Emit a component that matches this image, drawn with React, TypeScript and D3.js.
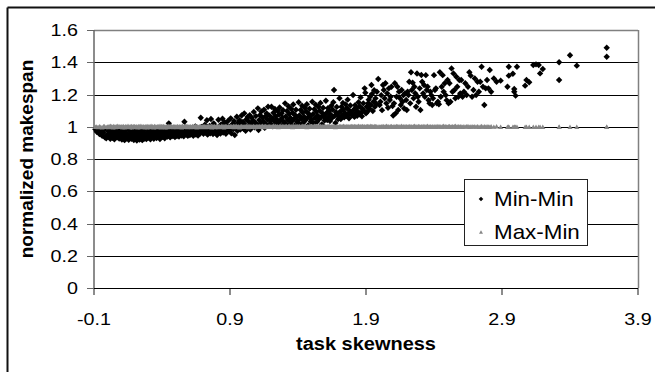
import React from "react";
import * as d3 from "d3";

// task skewness of each experiment (x)
const skewness: number[] = [
  -0.09, -0.08, -0.07, -0.06, -0.05, -0.04, -0.03, -0.025, -0.02, -0.01,
  0, 0.005, 0.01, 0.015, 0.02, 0.025, 0.03, 0.035, 0.04, 0.045, 0.05, 0.055, 0.06, 0.065, 0.07, 0.075, 0.08, 0.085, 0.09, 0.095,
  0.1, 0.105, 0.11, 0.115, 0.12, 0.125, 0.13, 0.135, 0.14, 0.145, 0.15, 0.155, 0.16, 0.165, 0.17, 0.175, 0.18, 0.185, 0.19, 0.193, 0.196, 0.199,
  0.2, 0.205, 0.21, 0.215, 0.22, 0.225, 0.23, 0.235, 0.24, 0.245, 0.25, 0.255, 0.26, 0.265, 0.27, 0.275, 0.28, 0.285, 0.29, 0.293, 0.296, 0.299,
  0.3, 0.305, 0.31, 0.315, 0.32, 0.325, 0.33, 0.335, 0.34, 0.345, 0.35, 0.355, 0.36, 0.365, 0.37, 0.375, 0.38, 0.385, 0.39, 0.393, 0.396, 0.399,
  0.4, 0.405, 0.41, 0.415, 0.42, 0.425, 0.43, 0.435, 0.44, 0.445, 0.45, 0.455, 0.46, 0.465, 0.47, 0.475, 0.48, 0.485, 0.49, 0.495,
  0.5, 0.505, 0.51, 0.515, 0.52, 0.525, 0.53, 0.535, 0.54, 0.545, 0.55, 0.555, 0.56, 0.565, 0.57, 0.575, 0.58, 0.585, 0.59, 0.595,
  0.6, 0.605, 0.61, 0.615, 0.62, 0.625, 0.63, 0.635, 0.64, 0.645, 0.65, 0.655, 0.66, 0.665, 0.67, 0.675, 0.68, 0.685, 0.69, 0.695,
  0.7, 0.705, 0.71, 0.715, 0.72, 0.725, 0.73, 0.735, 0.74, 0.745, 0.75, 0.755, 0.76, 0.765, 0.77, 0.775, 0.78, 0.785, 0.79, 0.795,
  0.8, 0.805, 0.81, 0.815, 0.82, 0.825, 0.83, 0.835, 0.84, 0.845, 0.85, 0.855, 0.86, 0.865, 0.87, 0.875, 0.88, 0.885, 0.89, 0.895,
  0.9, 0.905, 0.91, 0.915, 0.92, 0.925, 0.93, 0.935, 0.94, 0.945, 0.95, 0.955, 0.96, 0.965, 0.97, 0.975, 0.98, 0.985, 0.99, 0.995,
  1.0, 1.005, 1.01, 1.015, 1.02, 1.025, 1.03, 1.035, 1.04, 1.045, 1.05, 1.055, 1.06, 1.065, 1.07, 1.075, 1.08, 1.085, 1.09, 1.095,
  1.1, 1.105, 1.11, 1.115, 1.12, 1.125, 1.13, 1.135, 1.14, 1.145, 1.15, 1.155, 1.16, 1.165, 1.17, 1.175, 1.18, 1.185, 1.19, 1.195,
  1.2, 1.205, 1.21, 1.215, 1.22, 1.225, 1.23, 1.235, 1.24, 1.245, 1.25, 1.255, 1.26, 1.265, 1.27, 1.275, 1.28, 1.285, 1.29, 1.295,
  1.3, 1.305, 1.31, 1.315, 1.32, 1.325, 1.33, 1.335, 1.34, 1.345, 1.35, 1.355, 1.36, 1.365, 1.37, 1.375, 1.38, 1.385, 1.39, 1.395,
  1.4, 1.405, 1.41, 1.415, 1.42, 1.425, 1.43, 1.435, 1.44, 1.445, 1.45, 1.455, 1.46, 1.465, 1.47, 1.475, 1.48, 1.485, 1.49, 1.495,
  1.5, 1.505, 1.51, 1.515, 1.52, 1.525, 1.53, 1.535, 1.54, 1.545, 1.55, 1.555, 1.56, 1.565, 1.57, 1.575, 1.58, 1.585, 1.59, 1.595,
  1.6, 1.605, 1.61, 1.615, 1.62, 1.625, 1.63, 1.635, 1.64, 1.645, 1.65, 1.655, 1.66, 1.665, 1.67, 1.675, 1.68, 1.685, 1.69, 1.695,
  1.7, 1.705, 1.71, 1.715, 1.72, 1.725, 1.73, 1.735, 1.74, 1.745, 1.75, 1.755, 1.76, 1.765, 1.77, 1.775, 1.78, 1.785, 1.79, 1.795,
  1.8, 1.805, 1.81, 1.815, 1.82, 1.825, 1.83, 1.835, 1.84, 1.845, 1.85, 1.855, 1.86, 1.865, 1.87, 1.875, 1.88, 1.885, 1.89, 1.895,
  1.9, 1.905, 1.91, 1.915, 1.92, 1.925, 1.93, 1.935, 1.94, 1.945, 1.95, 1.955, 1.96, 1.965, 1.97, 1.975, 1.98, 1.99,
  2.0, 2.006, 2.012, 2.018, 2.025, 2.031, 2.037, 2.043, 2.05, 2.056, 2.062, 2.068, 2.075, 2.081, 2.087, 2.095,
  2.1, 2.106, 2.112, 2.118, 2.125, 2.131, 2.137, 2.143, 2.15, 2.156, 2.162, 2.168, 2.175, 2.181, 2.187, 2.195,
  2.2, 2.206, 2.212, 2.218, 2.225, 2.231, 2.237, 2.243, 2.25, 2.256, 2.262, 2.268, 2.275, 2.281, 2.287, 2.295,
  2.3, 2.307, 2.313, 2.32, 2.327, 2.333, 2.34, 2.347, 2.353, 2.36, 2.367, 2.373, 2.38, 2.387, 2.393,
  2.4, 2.407, 2.414, 2.421, 2.429, 2.436, 2.443, 2.45, 2.457, 2.464, 2.471, 2.479, 2.486, 2.493,
  2.5, 2.507, 2.514, 2.521, 2.529, 2.536, 2.543, 2.55, 2.557, 2.564, 2.571, 2.579, 2.586, 2.593,
  2.6, 2.61, 2.62, 2.63, 2.64, 2.65, 2.66, 2.67, 2.68, 2.69,
  2.7, 2.71, 2.72, 2.73, 2.74, 2.75, 2.76, 2.77, 2.78, 2.79,
  2.8, 2.81, 2.82, 2.84, 2.86, 2.89,
  2.94, 2.95, 2.95, 2.98, 2.99, 2.99, 3.0, 3.01, 3.07, 3.08, 3.1, 3.13, 3.15, 3.17, 3.18, 3.2, 3.32, 3.32, 3.4, 3.45, 3.67, 3.67,
];

// normalized makespan, Min-Min
const minMin: number[] = [
  0.984, 0.969, 0.978, 0.955, 0.972, 0.944, 0.962, 0.981, 0.935, 0.928,
  0.951, 0.972, 0.938, 0.962, 0.925, 0.983, 0.947, 0.931, 0.968, 0.956, 0.922, 0.977, 0.941, 0.961, 0.934, 0.986, 0.951, 0.927, 0.969, 0.944,
  0.958, 0.921, 0.973, 0.936, 0.949, 0.917, 0.965, 0.982, 0.929, 0.954, 0.941, 0.919, 0.976, 0.938, 0.962, 0.926, 0.948, 0.971, 0.933, 0.918, 0.957, 0.985,
  0.942, 0.926, 0.964, 0.915, 0.951, 0.978, 0.933, 0.92, 0.959, 0.944, 0.972, 0.917, 0.939, 0.961, 0.927, 0.985, 0.948, 0.923, 0.956, 0.934, 0.969, 0.946,
  0.951, 0.931, 0.968, 0.922, 0.944, 0.979, 0.937, 0.958, 0.926, 0.963, 0.942, 0.986, 0.93, 0.953, 0.972, 0.936, 0.947, 0.924, 0.96, 0.977, 0.94, 0.955,
  0.962, 0.938, 0.975, 0.947, 0.929, 0.968, 0.952, 0.985, 0.94, 0.958, 1.021, 0.971, 0.934, 0.963, 0.948, 0.979, 0.943, 0.957, 0.991, 0.936,
  0.955, 0.972, 0.943, 0.988, 0.961, 0.939, 0.978, 0.951, 0.966, 0.946, 0.983, 0.958, 0.941, 1.031, 0.974, 0.995, 0.952, 0.967, 0.944, 0.98,
  0.962, 0.948, 0.985, 0.971, 0.955, 0.992, 0.944, 0.977, 0.96, 1.002, 0.951, 0.983, 0.967, 0.946, 0.974, 0.989, 0.958, 1.056, 0.998, 0.965,
  0.972, 0.957, 0.994, 1.012, 0.965, 0.981, 1.04, 0.951, 0.987, 0.969, 1.005, 0.96, 1.048, 0.978, 0.992, 0.955, 1.021, 0.984, 0.966, 1.001,
  0.968, 0.949, 0.985, 1.043, 0.977, 0.996, 0.958, 1.015, 0.982, 1.05, 0.964, 0.99, 1.028, 0.972, 0.956, 1.008, 0.987, 1.036, 0.975, 0.998,
  0.978, 1.052, 0.96, 0.994, 1.018, 0.985, 1.035, 0.949, 1.006, 0.99, 1.062, 0.975, 1.024, 0.998, 1.041, 0.982, 1.011, 1.07, 0.993, 1.029,
  0.988, 1.083, 1.012, 0.975, 1.045, 1.002, 1.061, 0.994, 1.03, 1.071, 0.983, 1.019, 1.055, 1.007, 1.038, 1.092, 0.997, 1.026, 1.066, 1.014,
  1.005, 1.114, 0.98, 1.042, 1.072, 1.021, 1.095, 1.008, 1.057, 1.034, 1.105, 0.993, 1.064, 1.017, 1.082, 1.046, 1.124, 1.011, 1.069, 1.038,
  1.018, 1.124, 1.052, 1.003, 1.087, 1.035, 1.11, 1.066, 1.012, 1.045, 1.098, 1.027, 1.075, 1.119, 1.041, 1.006, 1.084, 1.058, 1.102, 1.031,
  1.025, 1.145, 1.064, 1.011, 1.098, 1.042, 1.127, 1.079, 1.019, 1.055, 1.111, 1.034, 1.087, 1.138, 1.048, 1.008, 1.072, 1.105, 1.061, 1.029,
  1.037, 1.152, 1.07, 1.015, 1.104, 1.049, 1.131, 1.088, 1.026, 1.062, 1.118, 1.041, 1.094, 1.14, 1.056, 1.01, 1.079, 1.112, 1.067, 1.033,
  1.045, 1.155, 1.078, 1.022, 1.109, 1.054, 1.137, 1.093, 1.031, 1.069, 1.124, 1.048, 1.1, 1.148, 1.06, 1.015, 1.084, 1.118, 1.072, 1.039,
  1.052, 1.161, 1.085, 1.042, 1.115, 1.062, 1.099, 1.036, 1.076, 1.13, 1.055, 1.106, 1.152, 1.228, 1.068, 1.024, 1.09, 1.123, 1.079, 1.047,
  1.062, 1.176, 1.094, 1.048, 1.124, 1.071, 1.148, 1.107, 1.058, 1.085, 1.139, 1.066, 1.115, 1.168, 1.078, 1.052, 1.098, 1.132, 1.088, 1.073,
  1.072, 1.197, 1.105, 1.061, 1.134, 1.082, 1.117, 1.068, 1.095, 1.152, 1.077, 1.126, 1.182, 1.089, 1.065, 1.11, 1.145, 1.1, 1.238, 1.211,
  1.083, 1.124, 1.093, 1.145, 1.168, 1.112, 1.186, 1.135, 1.259, 1.204, 1.098, 1.155, 1.227, 1.124, 1.176, 1.143, 1.217, 1.296,
  1.135, 1.155, 1.196, 1.103, 1.259, 1.228, 1.176, 1.27, 1.145, 1.207, 1.118, 1.238, 1.166, 1.186, 1.248, 1.128,
  1.07, 1.145, 1.27, 1.083, 1.186, 1.248, 1.104, 1.217, 1.176, 1.135, 1.228, 1.155, 1.196, 1.113, 1.207, 1.166,
  1.104, 1.217, 1.197, 1.279, 1.145, 1.338, 1.228, 1.273, 1.176, 1.248, 1.207, 1.124, 1.33, 1.186, 1.155, 1.238,
  1.104, 1.321, 1.279, 1.207, 1.259, 1.186, 1.32, 1.228, 1.248, 1.165, 1.145, 1.217, 1.196, 1.135, 1.176,
  1.32, 1.228, 1.238, 1.145, 1.155, 1.14, 1.338, 1.186, 1.248, 1.32, 1.217, 1.27, 1.196, 1.165,
  1.29, 1.145, 1.27, 1.155, 1.362, 1.217, 1.331, 1.228, 1.176, 1.31, 1.248, 1.186, 1.29, 1.207,
  1.29, 1.186, 1.217, 1.27, 1.197, 1.248, 1.338, 1.317, 1.186, 1.228,
  1.3, 1.197, 1.279, 1.217, 1.279, 1.372, 1.248, 1.135, 1.238, 1.29,
  1.238, 1.352, 1.217, 1.3, 1.279, 1.286,
  1.248, 1.372, 1.317, 1.329, 1.234, 1.217, 1.193, 1.372, 1.255, 1.29, 1.276, 1.383, 1.387, 1.383, 1.331, 1.358, 1.4, 1.29, 1.443, 1.379, 1.49, 1.434,
];

// normalized makespan, Max-Min
const maxMin: number[] = [
  1, 1.002, 0.998, 1.004, 1, 0.997, 1.003, 1.005, 1, 0.999,
  1.002, 0.998, 1.004, 1, 1.006, 0.999, 1.003, 1.001, 0.997, 1.005, 1, 1.002, 0.998, 1.004, 1.001, 1.006, 0.999, 1.003, 1, 1.002,
  1, 1.003, 0.998, 1.005, 1.001, 0.997, 1.004, 1, 1.002, 0.999, 1.006, 1.001, 0.998, 1.003, 1, 1.005, 0.997, 1.002, 1.004, 0.999, 1.001, 1.003,
  1.002, 0.999, 1.004, 1, 0.997, 1.005, 1.001, 1.003, 0.998, 1.006, 1, 1.002, 0.999, 1.004, 1.001, 0.997, 1.003, 1, 1.005, 0.998, 1.002, 1,
  1, 1.004, 0.998, 1.002, 1.006, 0.999, 1.003, 1, 0.997, 1.005, 1.001, 1.002, 0.998, 1.004, 1, 1.003, 0.999, 1.006, 1.001, 0.997, 1.002, 1.004,
  1.003, 0.999, 1.005, 1, 1.002, 0.997, 1.004, 1.001, 0.998, 1.006, 1, 1.003, 0.999, 1.002, 1.005, 1, 0.998, 1.004, 1.001, 1.003,
  1, 1.002, 0.998, 1.005, 1.001, 0.999, 1.004, 1, 1.003, 0.997, 1.006, 1.001, 0.999, 1.002, 1.004, 1, 1.003, 0.998, 1.005, 1.001,
  1.002, 1, 1.004, 0.998, 1.001, 1.005, 0.999, 1.003, 1, 1.006, 1.002, 0.997, 1.004, 1.001, 0.999, 1.003, 1, 1.005, 0.998, 1.002,
  1, 1.003, 0.999, 1.005, 1.001, 0.998, 1.004, 1, 1.002, 1.006, 0.999, 1.003, 1.001, 0.997, 1.004, 1, 1.002, 1.005, 0.998, 1.001,
  1.003, 1, 1.005, 0.998, 1.002, 1.004, 0.999, 1.001, 1.006, 1, 1.003, 0.997, 1.002, 1.005, 1, 1.004, 0.999, 1.001, 1.003, 1,
  1, 1.002, 1.004, 0.999, 1.001, 1.005, 0.998, 1.003, 1, 1.006, 1.002, 0.999, 1.004, 1.001, 0.997, 1.003, 1, 1.005, 1.002, 0.999,
  1.002, 0.999, 1.004, 1, 1.003, 1.006, 1.001, 0.998, 1.005, 1, 1.002, 1.004, 0.999, 1.001, 1.003, 1.005, 1, 0.998, 1.002, 1.004,
  1, 1.003, 1.001, 1.005, 0.999, 1.002, 1.004, 1, 1.006, 1.001, 0.998, 1.003, 1.005, 1, 1.002, 0.999, 1.004, 1.001, 1.003, 1,
  1.002, 1, 1.004, 1.001, 1.006, 0.999, 1.003, 1.005, 1, 1.002, 1.004, 0.998, 1.001, 1.003, 1.005, 1, 1.002, 1.004, 0.999, 1.003,
  1, 1.004, 1.002, 1.005, 1.001, 0.999, 1.003, 1.006, 1, 1.002, 1.004, 1.001, 0.998, 1.003, 1.005, 1, 1.002, 1.004, 1.001, 1.003,
  1.003, 1, 1.005, 1.002, 0.999, 1.004, 1.001, 1.006, 1.003, 1, 1.002, 1.005, 1.001, 0.998, 1.004, 1.002, 1, 1.003, 1.005, 1.001,
  1, 1.002, 1.004, 1.001, 1.006, 1.003, 0.999, 1.005, 1.002, 1, 1.004, 1.001, 1.003, 1.006, 1, 1.002, 1.004, 0.999, 1.003, 1.001,
  1.002, 1.004, 1, 1.005, 1.001, 1.003, 1.006, 0.999, 1.002, 1.004, 1.001, 1.003, 1, 1.005, 1.002, 0.998, 1.004, 1.001, 1.003, 1,
  1.001, 1.003, 1.005, 1, 1.002, 1.004, 0.999, 1.006, 1.001, 1.003, 1, 1.002, 1.005, 1.001, 1.004, 0.999, 1.002, 1.003, 1, 1.005,
  1.003, 1, 1.002, 1.005, 1.001, 1.004, 1.002, 0.999, 1.003, 1.006, 1, 1.002, 1.004, 1.001, 1.003, 1.005, 1, 1.002, 1.004, 1.001,
  1, 1.003, 1.005, 1.001, 1.004, 1.002, 1, 1.006, 1.003, 1.001, 1.004, 1, 1.002, 1.005, 1.003, 1.001, 1.004, 1.002,
  1.002, 1, 1.004, 1.001, 1.005, 1.003, 1, 1.002, 1.006, 1.001, 1.004, 1.002, 1, 1.003, 1.005, 1.001,
  1.001, 1.004, 1, 1.002, 1.005, 1.003, 1.001, 1.004, 1, 1.002, 1.006, 1.001, 1.003, 1, 1.004, 1.002,
  1.003, 1, 1.002, 1.005, 1.001, 1.004, 1.002, 1, 1.003, 1.006, 1.001, 1.004, 1, 1.002, 1.005, 1.003,
  1, 1.003, 1.001, 1.005, 1.002, 1.004, 1, 1.003, 1.006, 1.001, 1.002, 1.004, 1, 1.003, 1.001,
  1.002, 1.004, 1, 1.003, 1.005, 1.001, 1.004, 1.002, 1, 1.003, 1.006, 1.001, 1.004, 1.002,
  1.001, 1.003, 1.005, 1, 1.002, 1.004, 1.001, 1.003, 1.006, 1, 1.002, 1.004, 1.001, 1.003,
  1.002, 1, 1.004, 1.001, 1.003, 1.005, 1, 1.002, 1.004, 1.001,
  1.003, 1.001, 1.004, 1, 1.002, 1.005, 1.001, 1.003, 1, 1.004,
  1.002, 1, 1.004, 1.001, 1.003, 1,
  1, 1, 1, 1, 1, 1, 1, 1, 1, 1, 1, 1, 1, 1, 1, 1, 1, 1, 1, 1, 1, 1,
];

const yTicks: number[] = [0, 0.2, 0.4, 0.6, 0.8, 1, 1.2, 1.4, 1.6];
const xTicks: number[] = [-0.1, 0.9, 1.9, 2.9, 3.9];
const seriesNames: string[] = ["Min-Min", "Max-Min"];
const xTitle = "task skewness";
const yTitle = "normalized makespan";

const FONT = "'Liberation Sans', Arial, Helvetica, sans-serif";

export default function App() {
  const W = 657;
  const H = 372;
  const plot = { left: 94, right: 638, top: 30, bottom: 288 };
  const x = d3.scaleLinear().domain([-0.1, 3.9]).range([plot.left, plot.right]);
  const y = d3.scaleLinear().domain([0, 1.6]).range([plot.bottom, plot.top]);
  const n = Math.min(skewness.length, minMin.length, maxMin.length);
  const idx = d3.range(n);
  const fmt = (v: number) => String(+v.toFixed(1));

  const diamond = (r: number) => `M0,${-r}L${r},0L0,${r}L${-r},0Z`;
  const triangle = (w: number, h: number) => `M0,${-h / 2}L${w / 2},${h / 2}L${-w / 2},${h / 2}Z`;
  const gray = "#868686";

  return (
    <svg
      width={W}
      height={H}
      viewBox={`0 0 ${W} ${H}`}
      style={{ position: "absolute", left: 0, top: 0, background: "#fff" }}
      fontFamily={FONT}
    >
      <rect x={0} y={0} width={W} height={H} fill="#fff" />
      {/* outer chart frame */}
      <line x1={7.5} y1={7.5} x2={655} y2={7.5} stroke="#111" strokeWidth={2} />
      <line x1={7.5} y1={7.5} x2={7.5} y2={H} stroke="#111" strokeWidth={2} />

      {/* gridlines */}
      {yTicks.map((t) => (
        <line
          key={"g" + t}
          x1={plot.left}
          x2={plot.right}
          y1={Math.round(y(t)) + 0.5}
          y2={Math.round(y(t)) + 0.5}
          stroke={t === 1.6 ? "#808080" : "#000"}
          strokeWidth={t === 1.6 ? 1.5 : 1}
        />
      ))}
      {/* right plot border */}
      <line x1={plot.right + 0.5} x2={plot.right + 0.5} y1={plot.top} y2={plot.bottom} stroke="#808080" strokeWidth={1.5} />
      {/* y axis */}
      <line x1={plot.left} x2={plot.left} y1={plot.top} y2={plot.bottom + 1} stroke="#666" strokeWidth={1.5} />
      {yTicks.map((t) => (
        <line key={"yt" + t} x1={plot.left - 7} x2={plot.left} y1={Math.round(y(t)) + 0.5} y2={Math.round(y(t)) + 0.5} stroke="#666" strokeWidth={1} />
      ))}
      {/* x axis ticks */}
      {xTicks.map((t) => (
        <line key={"xt" + t} x1={x(t)} x2={x(t)} y1={plot.bottom} y2={plot.bottom + 7} stroke="#666" strokeWidth={1.5} />
      ))}
      <line x1={plot.left} x2={plot.right} y1={plot.bottom + 0.5} y2={plot.bottom + 0.5} stroke="#000" strokeWidth={1} />

      {/* y tick labels */}
      {yTicks.map((t) => (
        <text
          key={"yl" + t}
          transform={`translate(78,${y(t) + 6}) scale(1.16,1)`}
          textAnchor="end"
          fontSize={17}
          fill="#000"
        >
          {fmt(t)}
        </text>
      ))}
      {/* x tick labels */}
      {xTicks.map((t) => (
        <text
          key={"xl" + t}
          transform={`translate(${x(t)},${325}) scale(1.16,1)`}
          textAnchor="middle"
          fontSize={17}
          fill="#000"
        >
          {fmt(t)}
        </text>
      ))}

      {/* axis titles */}
      <text transform={`translate(366,350) scale(1.08,1)`} textAnchor="middle" fontSize={18.5} fontWeight="bold">
        {xTitle}
      </text>
      <text transform={`translate(33,159) rotate(-90)`} textAnchor="middle" fontSize={19} fontWeight="bold">
        {yTitle}
      </text>

      {/* Min-Min series */}
      <g fill="#000">
        {idx.map((i) => (
          <path key={"a" + i} d={diamond(3.2)} transform={`translate(${x(skewness[i])},${y(minMin[i])})`} />
        ))}
      </g>
      {/* Max-Min series */}
      <g fill={gray}>
        {idx.map((i) => (
          <path key={"b" + i} d={triangle(5, 4.4)} transform={`translate(${x(skewness[i])},${y(maxMin[i])})`} />
        ))}
      </g>

      {/* legend */}
      <rect x={464.5} y={179.5} width={123} height={66} fill="#fff" stroke="#222" strokeWidth={1} />
      <path d={diamond(2.3)} transform="translate(481,199)" fill="#000" />
      <text transform="translate(494,206) scale(1.12,1)" fontSize={20} fill="#000">
        {seriesNames[0]}
      </text>
      <path d={triangle(4, 3.6)} transform="translate(481,232)" fill={gray} />
      <text transform="translate(494,239) scale(1.12,1)" fontSize={20} fill="#000">
        {seriesNames[1]}
      </text>
    </svg>
  );
}
